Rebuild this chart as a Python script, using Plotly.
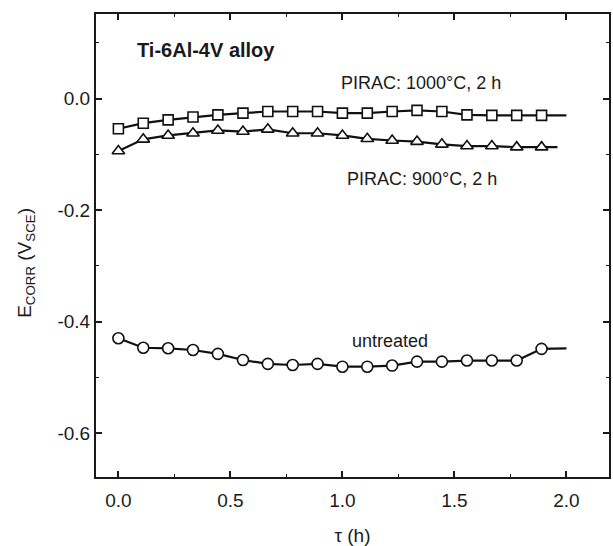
import plotly.graph_objects as go

t_marks = [0.0, 0.111, 0.222, 0.333, 0.444, 0.556, 0.667, 0.778, 0.889, 1.0,
           1.111, 1.222, 1.333, 1.444, 1.556, 1.667, 1.778, 1.889]
t_end = 2.0

e_1000 = [-0.054, -0.044, -0.038, -0.033, -0.029, -0.026, -0.023, -0.023, -0.023,
          -0.026, -0.026, -0.023, -0.021, -0.023, -0.029, -0.030, -0.030, -0.030]
e_1000_end = -0.030

e_900 = [-0.094, -0.073, -0.066, -0.062, -0.057, -0.059, -0.055, -0.062, -0.062,
         -0.066, -0.072, -0.075, -0.077, -0.082, -0.085, -0.085, -0.087, -0.087]
e_900_end = -0.087
t_900_end = 1.96

e_untr = [-0.430, -0.447, -0.448, -0.451, -0.458, -0.469, -0.476, -0.478, -0.476,
          -0.481, -0.481, -0.479, -0.472, -0.472, -0.470, -0.470, -0.470, -0.449]
e_untr_end = -0.448

x_ticks = [0.0, 0.5, 1.0, 1.5, 2.0]
x_labels = ["0.0", "0.5", "1.0", "1.5", "2.0"]
y_ticks = [-0.6, -0.4, -0.2, 0.0]
y_labels = ["-0.6", "-0.4", "-0.2", "0.0"]

fig = go.Figure()

series = [
    (e_1000, e_1000_end, t_end, "square", 10),
    (e_900, e_900_end, t_900_end, "triangle-up", 11),
    (e_untr, e_untr_end, t_end, "circle", 11),
]
for vals, vend, tend, sym, sz in series:
    fig.add_trace(go.Scatter(x=t_marks + [tend], y=vals + [vend], mode="lines",
                             line=dict(color="#111", width=2.2), showlegend=False,
                             hoverinfo="skip"))
for vals, vend, tend, sym, sz in series:
    fig.add_trace(go.Scatter(x=t_marks, y=vals, mode="markers",
                             marker=dict(symbol=sym, size=sz, color="white",
                                         line=dict(color="#111", width=1.6)),
                             showlegend=False))

font_main = "Liberation Sans, Arial, sans-serif"
ink = "#1a1a1a"

fig.update_layout(
    width=613, height=546,
    margin=dict(l=96, r=2, t=14, b=68),
    plot_bgcolor="white", paper_bgcolor="white",
    font=dict(family=font_main, size=18, color=ink),
    xaxis=dict(range=[-0.1, 2.19], tickvals=x_ticks, ticktext=x_labels,
               ticks="inside", ticklen=6, tickwidth=1.5, tickcolor=ink,
               tickfont=dict(size=19), ticklabelstandoff=5,
               minor=dict(ticks="inside", ticklen=3, tickvals=[0.25, 0.75, 1.25, 1.75],
                          tickcolor=ink, tickwidth=1.2),
               showline=True, linecolor=ink, linewidth=2, mirror="allticks",
               showgrid=False, zeroline=False,
               title=dict(text="τ (h)", standoff=20, font=dict(size=19))),
    yaxis=dict(range=[-0.679, 0.152], tickvals=y_ticks, ticktext=y_labels,
               ticks="inside", ticklen=6, tickwidth=1.5, tickcolor=ink,
               tickfont=dict(size=19),
               minor=dict(ticks="inside", ticklen=3, tickvals=[-0.5, -0.3, -0.1, 0.1],
                          tickcolor=ink, tickwidth=1.2),
               showline=True, linecolor=ink, linewidth=2, mirror="allticks",
               showgrid=False, zeroline=False),
    annotations=[
        dict(x=-0.138, y=0.463, xref="paper", yref="paper",
             text="E<sub>CORR</sub> (V<sub>SCE</sub>)", textangle=-90,
             showarrow=False, xanchor="center", yanchor="middle",
             font=dict(size=19, color=ink)),
        dict(x=0.073, y=0.0877, xref="x", yref="y", text="<b>Ti-6Al-4V alloy</b>",
             showarrow=False, xanchor="left", font=dict(size=20, color=ink)),
        dict(x=1.349, y=0.0287, xref="x", yref="y", text="PIRAC: 1000°C, 2 h",
             showarrow=False, xanchor="center", font=dict(size=18, color=ink)),
        dict(x=1.355, y=-0.145, xref="x", yref="y", text="PIRAC: 900°C, 2 h",
             showarrow=False, xanchor="center", font=dict(size=18, color=ink)),
        dict(x=1.211, y=-0.435, xref="x", yref="y", text="untreated",
             showarrow=False, xanchor="center", font=dict(size=18, color=ink)),
    ],
)

fig.write_html("out.html")
